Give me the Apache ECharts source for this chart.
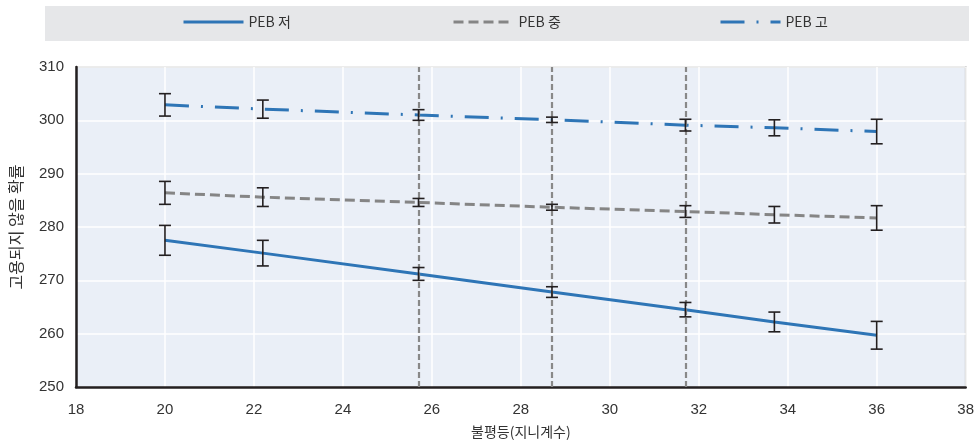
<!DOCTYPE html>
<html><head><meta charset="utf-8">
<script src="https://cdn.jsdelivr.net/npm/echarts@6/dist/echarts.min.js"></script>
<style>html,body{margin:0;padding:0;background:#fff}#c{width:977px;height:444px}</style>
</head><body><div id="c"></div>
<script>
const xValues = [20, 22.2, 25.7, 28.7, 31.7, 33.7, 36];
const seriesNames = ['PEB 저', 'PEB 중', 'PEB 고'];
const lowMean  = [277.5, 275.1, 271.2, 267.8, 264.5, 262.2, 259.7];
const lowErr   = [2.8, 2.4, 1.2, 1.0, 1.35, 1.85, 2.6];
const midMean  = [286.4, 285.6, 284.6, 283.7, 282.9, 282.3, 281.7];
const midErr   = [2.15, 1.75, 0.75, 0.55, 1.1, 1.55, 2.3];
const highMean = [302.9, 302.1, 301.0, 300.1, 299.1, 298.6, 297.9];
const highErr  = [2.1, 1.7, 1.0, 0.5, 1.1, 1.5, 2.3];
const refLines = [25.7, 28.7, 31.7];
const xTicks = {min: 18, max: 38, interval: 2};
const yTicks = {min: 250, max: 310, interval: 10};

const FONT = '"Noto Sans CJK KR", "Liberation Sans", sans-serif';
const BLUE = '#2e75b6', GRAY = '#858585';

function pairs(means) { return xValues.map((x, i) => [x, means[i]]); }
function errData(means, errs) { return xValues.map((x, i) => [x, means[i] - errs[i], means[i] + errs[i]]); }

function errSeries(means, errs) {
  return {
    type: 'custom', z: 5, silent: true,
    data: errData(means, errs),
    encode: {x: 0, y: [1, 2]},
    renderItem: function (params, api) {
      const lo = api.coord([api.value(0), api.value(1)]);
      const hi = api.coord([api.value(0), api.value(2)]);
      const w = 6;
      const st = {stroke: '#231f20', lineWidth: 1.6};
      return {type: 'group', children: [
        {type: 'line', shape: {x1: lo[0], y1: lo[1], x2: hi[0], y2: hi[1]}, style: st},
        {type: 'line', shape: {x1: lo[0] - w, y1: lo[1], x2: lo[0] + w, y2: lo[1]}, style: st},
        {type: 'line', shape: {x1: hi[0] - w, y1: hi[1], x2: hi[0] + w, y2: hi[1]}, style: st}
      ]};
    }
  };
}

const lineStyles = [
  {color: BLUE, width: 3, type: 'solid'},
  {color: GRAY, width: 3, type: [10, 5]},
  {color: BLUE, width: 3, type: [24, 12, 2, 12]}
];
const legendLefts = [182, 452, 719];

const chart = echarts.init(document.getElementById('c'));
chart.setOption({
  animation: false,
  textStyle: {fontFamily: FONT},
  graphic: [{type: 'rect', z: -10, shape: {x: 45, y: 6, width: 924, height: 35}, style: {fill: '#e6e7e9'}}],
  legend: seriesNames.map((n, i) => ({
    data: [n], left: legendLefts[i], top: 15, padding: 0, itemWidth: 60, itemHeight: 14, itemGap: 4,
    itemStyle: {opacity: 0}, lineStyle: {width: 3},
    textStyle: {fontSize: 14, color: '#333', fontFamily: FONT}
  })),
  grid: {left: 74, right: 11, top: 67, bottom: 57, show: true, backgroundColor: '#eaeff7', borderColor: '#999', borderWidth: 1.5},
  xAxis: {
    type: 'value', min: xTicks.min, max: xTicks.max, interval: xTicks.interval,
    name: '불평등(지니계수)', nameLocation: 'middle', nameGap: 38,
    nameTextStyle: {fontSize: 14, color: '#333'},
    axisLine: {show: true, lineStyle: {color: '#231f20', width: 2.5}},
    axisTick: {show: false},
    axisLabel: {fontSize: 15, color: '#333', margin: 15, fontFamily: '"Liberation Sans", sans-serif'},
    splitLine: {show: true, lineStyle: {color: '#ffffff', width: 1.5}}
  },
  yAxis: {
    type: 'value', min: yTicks.min, max: yTicks.max, interval: yTicks.interval,
    name: '고용되지 않을 확률', nameLocation: 'middle', nameGap: 52,
    nameTextStyle: {fontSize: 16, color: '#333'},
    axisLine: {show: true, lineStyle: {color: '#231f20', width: 2.5}},
    axisTick: {show: false},
    axisLabel: {fontSize: 15, color: '#333', margin: 12, fontFamily: '"Liberation Sans", sans-serif'},
    splitLine: {show: true, lineStyle: {color: '#ffffff', width: 1.5}}
  },
  series: [
    {name: seriesNames[0], type: 'line', z: 3, symbol: 'none', data: pairs(lowMean), lineStyle: lineStyles[0], itemStyle: {color: BLUE},
     markLine: {silent: true, symbol: 'none', label: {show: false},
       lineStyle: {color: '#888888', width: 2.2, type: [6, 3]},
       data: refLines.map(v => ({xAxis: v}))}},
    {name: seriesNames[1], type: 'line', z: 3, symbol: 'none', data: pairs(midMean), lineStyle: lineStyles[1], itemStyle: {color: GRAY}},
    {name: seriesNames[2], type: 'line', z: 3, symbol: 'none', data: pairs(highMean), lineStyle: lineStyles[2], itemStyle: {color: BLUE}},
    errSeries(lowMean, lowErr),
    errSeries(midMean, midErr),
    errSeries(highMean, highErr)
  ]
});
</script></body></html>
